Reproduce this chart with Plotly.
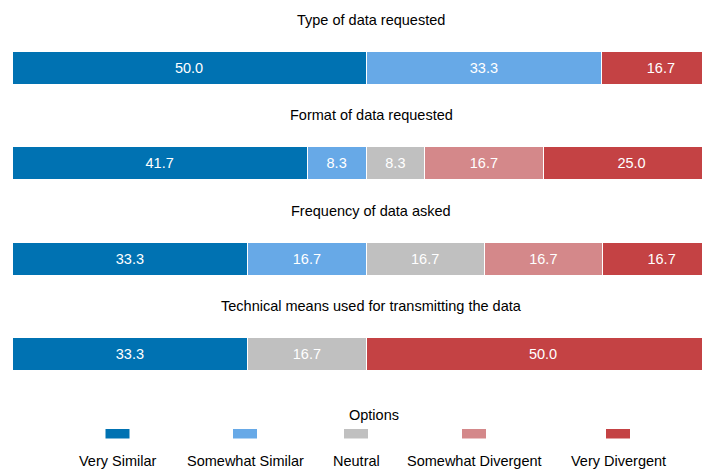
import plotly.graph_objects as go

# data
questions = [
    "Type of data requested",
    "Format of data requested",
    "Frequency of data asked",
    "Technical means used for transmitting the data",
]
options = ["Very Similar", "Somewhat Similar", "Neutral", "Somewhat Divergent", "Very Divergent"]
very_similar = [50.0, 41.7, 33.3, 33.3]
somewhat_similar = [33.3, 8.3, 16.7, 0.0]
neutral = [0.0, 8.3, 16.7, 16.7]
somewhat_divergent = [0.0, 16.7, 16.7, 0.0]
very_divergent = [16.7, 25.0, 16.7, 50.0]

series = [very_similar, somewhat_similar, neutral, somewhat_divergent, very_divergent]
colors = ["#0072B2", "#67A9E7", "#C0C0C0", "#D4888A", "#C44244"]

# page body has an 8px margin, so the figure sits at (8, 8) in the window
OFF = 8
W, H = 710 - OFF, 471 - OFF
LEFT = 12
FONT = "Liberation Sans, Arial, sans-serif"
FS = 14.5


def py(px):
    return 1 - (px - OFF) / H


def pxx(px):
    return (px - LEFT) / (710 - LEFT)


bar_tops = [51.7, 146.7, 242.7, 337.7]
bar_h = 32.4

fig = go.Figure()

for i, q in enumerate(questions):
    ax = "" if i == 0 else str(i + 1)
    for name, vals, col in zip(options, series, colors):
        v = vals[i]
        if v == 0:
            continue
        fig.add_trace(go.Bar(
            x=[v], y=[0], orientation="h", width=1,
            marker=dict(color=col, line=dict(color="white", width=1)),
            text=[f"{v:.1f}"], textposition="inside", insidetextanchor="middle",
            textfont=dict(color="white", size=FS, family=FONT),
            constraintext="none", cliponaxis=True,
            showlegend=False, hoverinfo="skip",
            xaxis="x" + ax, yaxis="y" + ax,
        ))
    top = bar_tops[i]
    fig.update_layout(**{
        "yaxis" + ax: dict(domain=[py(top + bar_h), py(top)], range=[-0.5, 0.5],
                           visible=False, fixedrange=True),
        "xaxis" + ax: dict(domain=[0, 1], range=[0, 100 * (710 - LEFT) / 708],
                           visible=False, anchor="y" + ax),
    })
    fig.add_annotation(text=q, xref="paper", yref="paper", x=pxx(371), y=py(top - 32),
                       showarrow=False, xanchor="center", yanchor="middle",
                       font=dict(size=FS, color="black", family=FONT))

# legend drawn below the bars
leg_x = [117.5, 245, 356, 474, 618]
fig.add_annotation(text="Options", xref="paper", yref="paper", x=pxx(374), y=py(415),
                   showarrow=False, xanchor="center", yanchor="middle",
                   font=dict(size=FS, color="black", family=FONT))
for name, col, cx in zip(options, colors, leg_x):
    fig.add_shape(type="rect", xref="paper", yref="paper",
                  x0=pxx(cx - 12), x1=pxx(cx + 12), y0=py(438.5), y1=py(429),
                  fillcolor=col, line=dict(width=0))
    fig.add_annotation(text=name, xref="paper", yref="paper", x=pxx(cx), y=py(461),
                       showarrow=False, xanchor="center", yanchor="middle",
                       font=dict(size=FS, color="black", family=FONT))

fig.update_layout(
    barmode="stack",
    width=W, height=H,
    margin=dict(l=LEFT - OFF, r=0, t=0, b=0),
    plot_bgcolor="white", paper_bgcolor="white",
    showlegend=False,
)

fig.write_html("out.html")
